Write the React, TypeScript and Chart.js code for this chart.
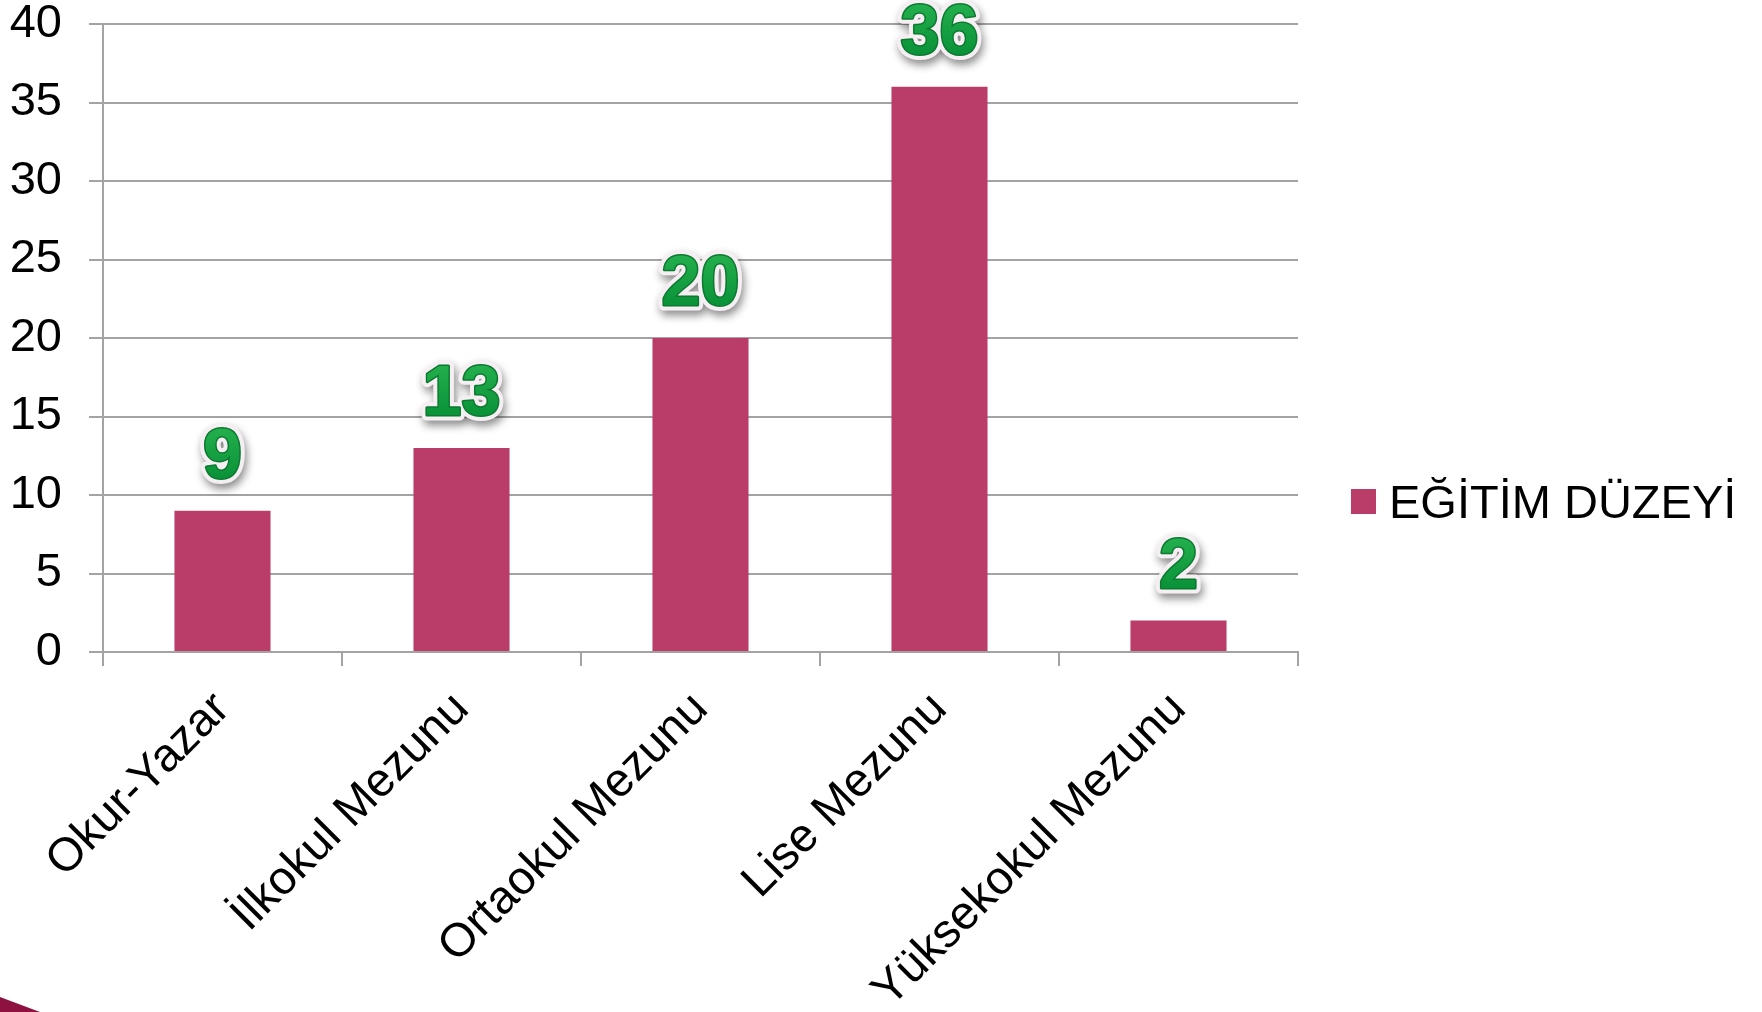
import React, { useEffect, useRef } from "react";
import { Chart, registerables } from "chart.js";

Chart.register(...registerables);

const categories = [
  "Okur-Yazar",
  "İlkokul Mezunu",
  "Ortaokul Mezunu",
  "Lise Mezunu",
  "Yüksekokul Mezunu",
];
const seriesName = "EĞİTİM DÜZEYİ";
const seriesValues = [9, 13, 20, 36, 2];
const yTicks = [0, 5, 10, 15, 20, 25, 30, 35, 40];

const FONT = '"Liberation Sans", Arial, sans-serif';
const BAR_COLOR = "#B93D68";
const GRID_COLOR = "#A3A3A3";

const greenLabels = {
  id: "greenLabels",
  afterDatasetsDraw(chart: any) {
    const ctx = chart.ctx as CanvasRenderingContext2D;
    const meta = chart.getDatasetMeta(0);
    const data = chart.data.datasets[0].data as number[];
    ctx.save();
    ctx.font = `bold 70px ${FONT}`;
    ctx.textAlign = "center";
    ctx.textBaseline = "alphabetic";
    ctx.lineJoin = "round";
    meta.data.forEach((el: any, i: number) => {
      const text = String(data[i]);
      const x = el.x;
      const y = el.y - 33;
      ctx.save();
      ctx.shadowColor = "rgba(0,0,0,0.45)";
      ctx.shadowBlur = 8;
      ctx.shadowOffsetX = 2;
      ctx.shadowOffsetY = 5;
      ctx.strokeStyle = "#F5EEF3";
      ctx.lineWidth = 11;
      ctx.strokeText(text, x, y);
      ctx.restore();
      ctx.strokeStyle = "#0A7A30";
      ctx.lineWidth = 3;
      ctx.strokeText(text, x, y);
      const g = ctx.createLinearGradient(0, y - 52, 0, y);
      g.addColorStop(0, "#25B04E");
      g.addColorStop(1, "#0A9238");
      ctx.fillStyle = g;
      ctx.fillText(text, x, y);
    });
    ctx.restore();
  },
};

const sideLegend = {
  id: "sideLegend",
  afterDraw(chart: any) {
    const ctx = chart.ctx as CanvasRenderingContext2D;
    const ds = chart.data.datasets[0];
    const boxX = chart.chartArea.right + 53;
    const cy = chart.height / 2 - 4.5;
    ctx.save();
    ctx.fillStyle = ds.backgroundColor;
    ctx.fillRect(boxX, cy - 12.5, 25, 25);
    ctx.fillStyle = "#000";
    ctx.font = `47px ${FONT}`;
    ctx.textAlign = "left";
    ctx.textBaseline = "alphabetic";
    ctx.fillText(ds.label, boxX + 38, cy + 16);
    ctx.restore();
  },
};

export default function App() {
  const canvasRef = useRef<HTMLCanvasElement | null>(null);

  useEffect(() => {
    if (!canvasRef.current) return;
    const chart = new Chart(canvasRef.current, {
      type: "bar",
      data: {
        labels: categories,
        datasets: [
          {
            label: seriesName,
            data: seriesValues,
            backgroundColor: BAR_COLOR,
            borderWidth: 0,
            categoryPercentage: 1,
            barPercentage: 0.402,
          },
        ],
      },
      options: {
        responsive: false,
        animation: false,
        devicePixelRatio: 1,
        layout: { padding: { left: 0, right: 464, top: 0, bottom: 0 } },
        plugins: {
          tooltip: { enabled: false },
          legend: { display: false },
        },
        scales: {
          x: {
            grid: {
              display: true,
              drawOnChartArea: false,
              drawTicks: true,
              tickLength: 14,
              color: GRID_COLOR,
              lineWidth: 2,
            },
            border: { display: true, color: GRID_COLOR, width: 2 },
            ticks: {
              maxRotation: 45,
              minRotation: 45,
              autoSkip: false,
              padding: 19,
              color: "#000",
              font: { family: FONT, size: 47, lineHeight: 1 },
            },
            afterFit: (s: any) => {
              s.height = 360;
              s.paddingLeft = 0;
              s.paddingRight = 0;
            },
          },
          y: {
            min: 0,
            max: 40,
            afterBuildTicks: (s: any) => {
              s.ticks = yTicks.map((v) => ({ value: v }));
            },
            grid: {
              color: GRID_COLOR,
              lineWidth: 2,
              drawTicks: true,
              tickLength: 14,
            },
            border: { display: true, color: GRID_COLOR, width: 2 },
            ticks: {
              padding: 27,
              color: "#000",
              font: { family: FONT, size: 47, lineHeight: 1 },
            },
            afterFit: (s: any) => {
              s.width = 103;
              s.paddingTop = 24;
              s.paddingBottom = 0;
            },
          },
        },
      },
      plugins: [greenLabels, sideLegend],
    });
    return () => chart.destroy();
  }, []);

  return (
    <div
      style={{
        position: "fixed",
        left: 0,
        top: 0,
        width: 1762,
        height: 1012,
        background: "#fff",
        overflow: "hidden",
      }}
    >
      <canvas ref={canvasRef} width={1762} height={1012} style={{ display: "block" }} />
      <div
        style={{
          position: "absolute",
          left: 0,
          bottom: 0,
          width: 40,
          height: 15,
          background: "#8E1240",
          clipPath: "polygon(0 0, 100% 100%, 0 100%)",
        }}
      />
    </div>
  );
}
